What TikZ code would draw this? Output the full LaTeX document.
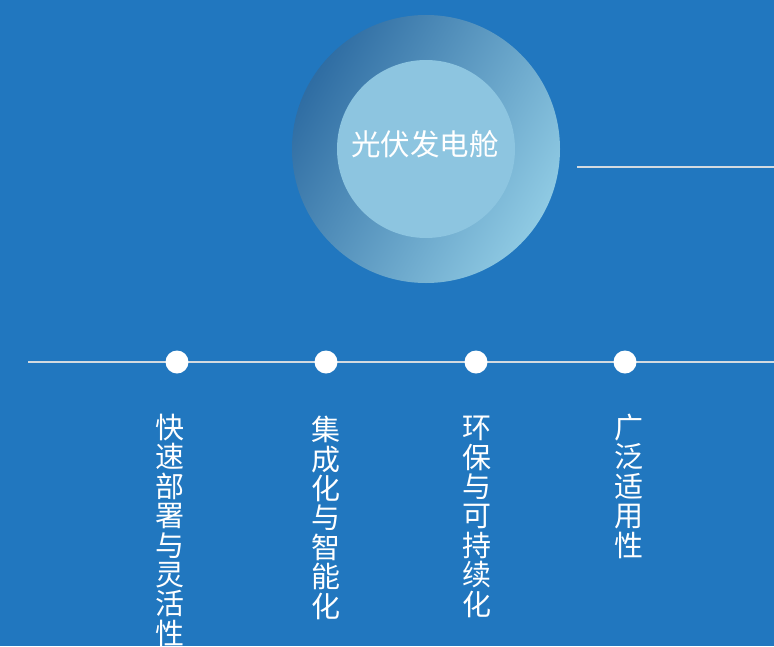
\documentclass[tikz,border=0pt]{standalone}
\usepackage{fontspec}
\newfontfamily\cjk{Noto Sans CJK SC}
\definecolor{bgblue}{HTML}{2177BF}
\definecolor{ringdark}{HTML}{2F6DA3}
\definecolor{ringlight}{HTML}{8FCAE3}
\definecolor{innerblue}{HTML}{8DC5E0}
\definecolor{linegray}{HTML}{D3DAE0}
\tikzset{
  dotnode/.style={circle, fill=white, draw=none, minimum size=23pt, inner sep=0pt},
  vlabel/.style={text=white, font=\cjk\fontsize{29}{29.4}\selectfont, align=center, anchor=north, inner sep=0pt},
  guide/.style={draw=linegray, line width=2.2pt},
}
\begin{document}
\begin{tikzpicture}[x=1pt,y=-1pt]
  \fill[bgblue] (0,0) rectangle (774,646);
  \useasboundingbox (0,0) rectangle (774,646);
  % ring with gradient
  \shade[top color=ringdark, bottom color=ringlight, shading angle=60] (426,149) circle (134);
  \node[circle, fill=innerblue, minimum size=178pt, inner sep=0pt] (core) at (426,149) {};
  \node[text=white, font=\cjk\fontsize{29.5}{31}\selectfont, inner sep=0pt] (title) at (425,144) {光伏发电舱};
  % right line
  \coordinate (rs) at (577,167);
  \coordinate (re) at (774,167);
  \draw[guide] (rs) -- (re);
  % timeline
  \coordinate (ls) at (28,362);
  \coordinate (le) at (774,362);
  \draw[guide] (ls) -- (le);
  \node[dotnode] (d1) at (177,362) {};
  \node[dotnode] (d2) at (326,362) {};
  \node[dotnode] (d3) at (476,362) {};
  \node[dotnode] (d4) at (625,362) {};
  \node[vlabel] (t1) at (170,414) {快\\速\\部\\署\\与\\灵\\活\\性};
  \node[vlabel] (t2) at (326,416) {集\\成\\化\\与\\智\\能\\化};
  \node[vlabel] (t3) at (477,416) {环\\保\\与\\可\\持\\续\\化};
  \node[vlabel] (t4) at (629,414) {广\\泛\\适\\用\\性};
\end{tikzpicture}
\end{document}
